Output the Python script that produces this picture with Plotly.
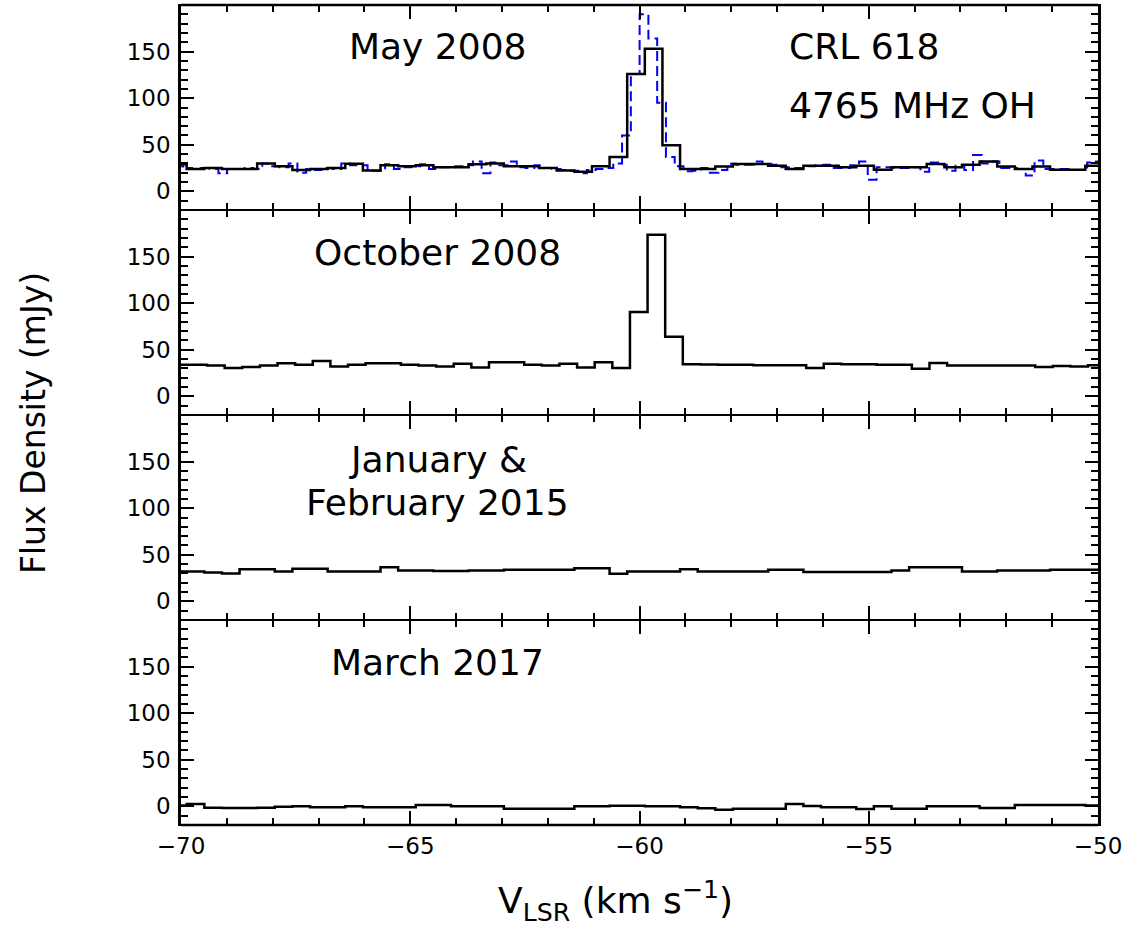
import numpy as np
import plotly.graph_objects as go
from plotly.subplots import make_subplots

# ---------------- data ----------------
CHAN_W = 0.3843          # km/s, solid spectra channel width
V0_SOLID = -70.068       # centre of first channel (May 2008, 2015, 2017)
V0_OCT = -70.008         # centre of first channel (October 2008)
BLUE_W = 0.1914          # km/s, dashed (blue) spectrum channel width
V0_BLUE = -70.046

may2008 = [29, 24, 25, 24, 24, 30, 27, 23, 24, 25,
           29.5, 22.5, 28, 27, 28, 26, 26, 29, 30, 27,
           27, 25, 22.5, 21, 27, 37, 126, 153, 49.6, 24,
           24, 26.8, 29.3, 29.3, 27.5, 24, 27.5, 27.5, 26, 27.5,
           23.2, 26, 26, 29.3, 26, 28.6, 32, 26.8, 24, 26.8,
           23.2, 23.2, 27.5]

may2008_blue = [27, 25, 24, 25, 24, 19.5, 24, 24, 25, 24,
                30, 27, 26, 30, 20, 24, 23, 25, 24, 30,
                28, 28, 22, 22, 29, 24, 26, 27, 29, 24,
                26, 26, 27, 28, 32, 19.5, 31, 28, 32, 26,
                25, 28, 25, 24, 23, 22, 19.5, 23, 24, 25,
                30, 60, 126, 190, 164, 95, 37, 27, 21.5, 22,
                25, 20, 23, 29.5, 28.5, 28.5, 32, 29.5, 28.5, 26,
                25, 25, 27, 28, 28.5, 25, 25, 28, 32, 12.5,
                26, 26, 25, 25, 26, 21, 31, 28.5, 22, 27.5,
                23, 39, 30, 32, 25, 25, 24, 17, 33, 24,
                24, 24, 23, 23, 31, 32]

oct2008 = [34, 34, 33, 30.5, 31.5, 33, 35.5, 34, 38, 32,
           34, 35.5, 35.5, 34, 33, 32, 35, 31, 36.5, 36.5,
           34, 33, 35, 31, 36.5, 30.5, 90.5, 173.5, 64, 34.5,
           34.3, 34, 34, 33.5, 33.5, 33.5, 30.5, 35, 34.5, 34.5,
           34, 34, 29.5, 35.7, 33.2, 33.2, 33, 33, 33, 31.5,
           32.5, 32, 33.5]

janfeb2015 = [32, 32, 31, 30, 34.5, 34.5, 32, 35, 35, 32,
              32, 32, 36.5, 33, 33, 32.5, 32.5, 33, 33, 34,
              34, 34, 34, 35.5, 35.5, 29.5, 32, 32, 32, 34.5,
              32, 32, 32, 32, 34, 34, 31.5, 31.5, 31.5, 31.5,
              31.5, 33, 36.5, 36.5, 36.5, 32, 32, 33, 33, 33,
              34, 34, 34]

mar2017 = [1, 2.5, -1.5, -1.8, -1.8, -1.5, -0.5, 0, -1, -1,
           0, -1, -1, -1, 1.4, 1.4, 0, 0, 0, -2.5,
           -2.5, -2.5, -2.5, 0, 0, 0.7, 0.7, 0, 0, -1,
           -2, -3.6, -2.5, -2.5, -2.5, 2.5, 0.3, -1, -1, -2.9,
           0, -2.5, -2.5, 0, 0, 0, -1.8, -1.8, 1.4, 1.4,
           1.4, 1.4, 1]

panel_labels = [["May 2008"], ["October 2008"], ["January &", "February 2015"], ["March 2017"]]
x_ticks = [-70, -65, -60, -55, -50]
y_ticks = [0, 50, 100, 150]


def steps(v0, w, vals):
    left = v0 - w / 2 + w * np.arange(len(vals))
    x = np.append(left, left[-1] + w)
    y = np.append(np.asarray(vals, dtype=float), vals[-1])
    return x, y


# ---------------- figure ----------------
W, H = 1128, 926
ML, MR, MT, MB = 181, 29.5, 5, 101

fig = make_subplots(rows=4, cols=1, shared_xaxes=True, vertical_spacing=0)

FONT = "DejaVu Sans"

x, y = steps(V0_BLUE, BLUE_W, may2008_blue)
fig.add_trace(go.Scatter(x=x, y=y, mode="lines", line=dict(shape="hv", color="#0000ff", width=2, dash="10px,5px"),
                         showlegend=False), row=1, col=1)
for r, (v0, vals) in enumerate([(V0_SOLID, may2008), (V0_OCT, oct2008),
                                (V0_SOLID, janfeb2015), (V0_SOLID, mar2017)], start=1):
    x, y = steps(v0, CHAN_W, vals)
    fig.add_trace(go.Scatter(x=x, y=y, mode="lines", line=dict(shape="hv", color="black", width=2.5),
                             showlegend=False), row=r, col=1)

for r in range(1, 5):
    fig.update_xaxes(range=[-70, -50], tickvals=x_ticks, ticks="inside", ticklen=14, tickwidth=2,
                     tickcolor="black", showline=True, linecolor="black", linewidth=1.3, mirror="allticks",
                     showgrid=False, zeroline=False,
                     minor=dict(dtick=1, ticks="inside", ticklen=7, tickwidth=2, tickcolor="black", showgrid=False),
                     tickfont=dict(family=FONT, size=23, color="black"), row=r, col=1)
    fig.update_yaxes(range=[-20, 200], tickvals=y_ticks, ticks="inside", ticklen=13, tickwidth=2,
                     tickcolor="black", showline=True, linecolor="black", linewidth=2.5, mirror="allticks",
                     showgrid=False, zeroline=False, ticklabelstandoff=3,
                     minor=dict(dtick=10, ticks="inside", ticklen=7, tickwidth=2, tickcolor="black", showgrid=False),
                     tickfont=dict(family=FONT, size=23, color="black"), row=r, col=1)

ann = []
label_pos = [[156], [154.5], [152, 106], [154.5]]
for r in range(4):
    for txt, yy in zip(panel_labels[r], label_pos[r]):
        suffix = "" if r == 0 else str(r + 1)
        ann.append(dict(x=-64.40, y=yy, xref="x" + suffix, yref="y" + suffix, text=txt, showarrow=False,
                        xanchor="center", yanchor="middle", font=dict(family=FONT, size=36, color="black")))
ann.append(dict(x=-56.79, y=156, xref="x", yref="y", text="CRL 618", showarrow=False,
                xanchor="left", yanchor="middle", font=dict(family=FONT, size=36, color="black")))
ann.append(dict(x=-56.79, y=92, xref="x", yref="y", text="4765 MHz OH", showarrow=False,
                xanchor="left", yanchor="middle", font=dict(family=FONT, size=36, color="black")))

plot_w = W - ML - MR
plot_h = H - MT - MB
ann.append(dict(x=(33 - ML) / plot_w, y=(H - MB - 423) / plot_h, xref="paper", yref="paper",
                text="Flux Density (mJy)", textangle=-90, showarrow=False, xanchor="center", yanchor="middle",
                font=dict(family=FONT, size=33, color="black")))
ann.append(dict(x=(616 - ML) / plot_w, y=(H - MB - 901) / plot_h, xref="paper", yref="paper",
                text="V<sub>LSR</sub> (km s<sup>\u22121</sup>)", showarrow=False, xanchor="center",
                yanchor="middle", font=dict(family=FONT, size=36, color="black")))

shapes = [dict(type="line", xref="paper", yref="paper", x0=0, x1=1, y0=yy, y1=yy,
               line=dict(color="black", width=2.5)) for yy in (0, 1)]

fig.update_layout(width=W, height=H, margin=dict(l=ML, r=MR, t=MT, b=MB),
                  paper_bgcolor="white", plot_bgcolor="white", annotations=ann, shapes=shapes,
                  showlegend=False)

fig.write_html("out.html", config={"displayModeBar": False},
               post_script="document.body.style.margin='0';document.body.style.padding='0';")
